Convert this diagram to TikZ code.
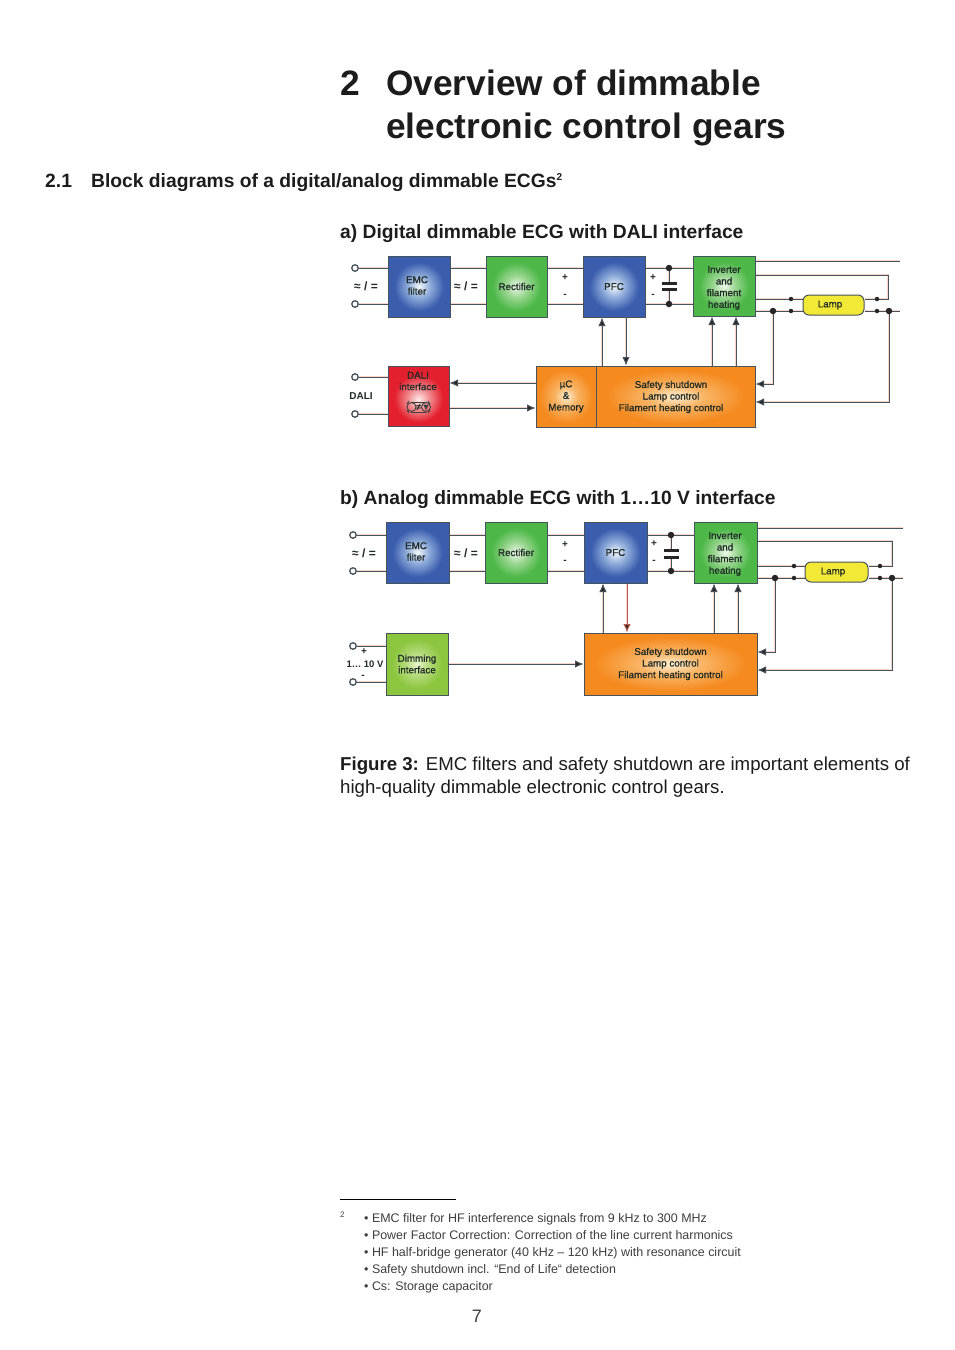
\documentclass[tikz,border=0pt]{standalone}
\usepackage{fontspec}
\setmainfont{Liberation Sans}
\newfontfamily\blockfont[RawFeature={embolden=0.9}]{Liberation Sans}
\usepackage{xcolor}
\usetikzlibrary{arrows.meta, shadings, backgrounds}

\definecolor{wirecol}{HTML}{46525C}
\definecolor{wirehalo}{HTML}{F8D4CA}
\definecolor{wirered}{HTML}{B85A50}
\definecolor{inkcol}{HTML}{1C1C1C}
\definecolor{labelcol}{HTML}{1F2A26}
\definecolor{blueout}{HTML}{3A5DAE}
\definecolor{bluemid}{HTML}{8FACDA}
\definecolor{bluein}{HTML}{F2F7FC}
\definecolor{greenout}{HTML}{4DB848}
\definecolor{greenmid}{HTML}{9AD691}
\definecolor{greenin}{HTML}{EEF9EA}
\definecolor{redout}{HTML}{E4202E}
\definecolor{redmid}{HTML}{F08A8E}
\definecolor{redin}{HTML}{FDECEC}
\definecolor{orangeout}{HTML}{F58A1F}
\definecolor{orangemid}{HTML}{F9B566}
\definecolor{orangein}{HTML}{FDEFD2}
\definecolor{limeout}{HTML}{8CC63F}
\definecolor{limemid}{HTML}{B5DB7C}
\definecolor{limein}{HTML}{EAF5CC}
\definecolor{lampcol}{HTML}{F2E936}

\pgfdeclareradialshading{blueglow}{\pgfpointorigin}{color(0bp)=(bluein); color(9bp)=(bluemid); color(20bp)=(blueout); color(50bp)=(blueout)}
\pgfdeclareradialshading{greenglow}{\pgfpointorigin}{color(0bp)=(greenin); color(9bp)=(greenmid); color(20bp)=(greenout); color(50bp)=(greenout)}
\pgfdeclareradialshading{redglow}{\pgfpoint{0bp}{-3bp}}{color(0bp)=(redin); color(9bp)=(redmid); color(20bp)=(redout); color(50bp)=(redout)}
\pgfdeclareradialshading{orangeglow}{\pgfpointorigin}{color(0bp)=(orangein); color(9bp)=(orangemid); color(22bp)=(orangeout); color(50bp)=(orangeout)}
\pgfdeclareradialshading{limeglow}{\pgfpointorigin}{color(0bp)=(limein); color(9bp)=(limemid); color(20bp)=(limeout); color(50bp)=(limeout)}

\tikzset{
    heading/.style={anchor=base west, inner sep=0pt, text=inkcol, font=\bfseries\fontsize{35.3}{36}\selectfont},
    subhead/.style={anchor=base west, inner sep=0pt, text=inkcol, font=\bfseries\fontsize{19.25}{20}\selectfont},
    captext/.style={anchor=base west, inner sep=0pt, text=inkcol, font=\fontsize{18.65}{20}\selectfont},
    notetext/.style={anchor=base west, inner sep=0pt, text=inkcol!85!white, font=\fontsize{12.45}{13}\selectfont},
    block/.style={draw=wirecol, line width=1pt, inner sep=0pt, align=center, text=labelcol, shade, font=\blockfont\fontsize{9.8}{11.6}\selectfont},
    blueblock/.style={block, shading=blueglow},
    greenblock/.style={block, shading=greenglow},
    redblock/.style={block, shading=redglow},
    orangeblock/.style={block, shading=orangeglow},
    limeblock/.style={block, shading=limeglow},
    lampbox/.style={draw=wirecol, line width=1pt, rounded corners=6pt, fill=lampcol, inner sep=0pt},
    blocktext/.style={inner sep=0pt, align=center, text=labelcol, font=\blockfont\fontsize{9.8}{11.6}\selectfont},
    sidetext/.style={inner sep=0pt, text=labelcol, font=\bfseries\fontsize{10}{10}\selectfont},
    acmark/.style={sidetext, font=\bfseries\fontsize{12}{12}\selectfont},
    terminal/.style={circle, draw=wirecol, fill=white, line width=1.3pt, minimum size=6.5pt, inner sep=0pt},
    bigdot/.style={circle, fill=black!85, minimum size=6.5pt, inner sep=0pt},
    smalldot/.style={circle, fill=black!85, minimum size=4.5pt, inner sep=0pt},
    wire/.style={draw=wirecol, line width=1pt, preaction={draw=wirehalo, line width=2pt}},
    sig/.style={wire, -{Latex[length=8.5pt, width=7.5pt, fill=black!85]}},
    plate/.style={draw=black!85, line width=3pt},
    optoline/.style={draw=black!75, line width=0.9pt},
}

\begin{document}
\begin{tikzpicture}[x=1pt, y=-1pt]
    \useasboundingbox (0,0) rectangle (954,1350);

    % page text
    \node[heading] (chapNum) at (340,95.5) {2};
    \node[heading] (chapLineA) at (386,95.5) {Overview of dimmable};
    \node[heading] (chapLineB) at (386,138.5) {electronic control gears};
    \node[subhead] (secNum) at (45,187) {2.1};
    \node[subhead] (secTitle) at (91,187) {Block diagrams of a digital/analog dimmable ECGs\raisebox{6.5pt}{\fontsize{10}{10}\selectfont 2}};
    \node[subhead] (titleA) at (340,238) {a) Digital dimmable ECG with DALI interface};
    \node[subhead] (titleB) at (340,504) {b) Analog dimmable ECG with 1…10 V interface};
    \node[captext] (capLineA) at (340,770) {\textbf{Figure 3:} EMC filters and safety shutdown are important elements of};
    \node[captext] (capLineB) at (340,793) {high-quality dimmable electronic control gears.};

    % a) blocks
    \node[blueblock, minimum width=62pt, minimum height=61pt] (emcA) at (419,286.5) {};
    \node[greenblock, minimum width=61pt, minimum height=61pt] (rectA) at (516.5,286.5) {Rectifier};
    \node[blueblock, minimum width=62pt, minimum height=61pt] (pfcA) at (614,286.5) {PFC};
    \node[greenblock, minimum width=62pt, minimum height=60pt] (invA) at (724,286) {};
    \node[lampbox, minimum width=61pt, minimum height=20pt] (lampA) at (833.5,305) {};
    \node[redblock, minimum width=61pt, minimum height=60pt] (daliA) at (418.5,396) {};
    \node[orangeblock, minimum width=60pt, minimum height=61pt] (ucA) at (566,396.5) {µC\\\&\\Memory};
    \node[orangeblock, minimum width=159pt, minimum height=61pt] (safeA) at (675.5,396.5) {};
    \node[blocktext] (emcTextA) at (417,285.5) {EMC\\filter};
    \node[blocktext] (invTextA) at (724,288) {Inverter\\and\\filament\\heating};
    \node[blocktext] (lampTextA) at (830,305) {Lamp};
    \node[blocktext] (safeTextA) at (671,397) {Safety shutdown\\Lamp control\\Filament heating control};
    \node[blocktext] (daliTextA) at (418,381) {DALI\\interface};

    % a) optocoupler icon
    \draw[optoline] (411,402) -- (426,402) (411,412) -- (426,412);
    \draw[optoline] (411.5,407) circle (4.5);
    \draw[optoline] (426,407) circle (4.5);
    \draw[optoline] (407,404) -- (409,401) (430,404) -- (428,401) (407,410) -- (409,413) (430,410) -- (428,413);
    \draw[optoline, fill=black!75] (424,405) -- (428,405) -- (426,409) -- cycle;
    \node[blocktext] (optoA) at (418.7,407) {≠};

    % a) terminals and labels
    \node[terminal] (termA1) at (355,268) {};
    \node[terminal] (termA2) at (355,304) {};
    \node[terminal] (termA3) at (355,377) {};
    \node[terminal] (termA4) at (355,414) {};
    \node[acmark] (acA1) at (366,286) {≈ / =};
    \node[acmark] (acA2) at (466,286) {≈ / =};
    \node[sidetext] (busA) at (361,396) {DALI};
    \node[sidetext] (plusA1) at (565,278) {+};
    \node[sidetext] (minusA1) at (565,296) {-};
    \node[sidetext] (plusA2) at (653,278) {+};
    \node[sidetext] (minusA2) at (653,296) {-};

    % a) wiring
    \node[bigdot] (capTopA) at (669,268) {};
    \node[bigdot] (capBotA) at (669,304) {};
    \coordinate (plateTopA) at (669,283);
    \coordinate (plateBotA) at (669,289);
    \node[smalldot] (lampDotA1) at (791,299) {};
    \node[smalldot] (lampDotA2) at (791,311) {};
    \node[smalldot] (lampDotA3) at (877,299) {};
    \node[smalldot] (lampDotA4) at (877,311) {};
    \node[bigdot] (tapA1) at (773,311) {};
    \node[bigdot] (tapA2) at (889,311) {};
    \coordinate (endA1) at (900,261);
    \coordinate (endA2) at (900,311);
    \coordinate (cornerA1) at (888,275);
    \coordinate (cornerA2) at (888,299);
    \coordinate (cornerA3) at (773,384);
    \coordinate (cornerA4) at (889,402);

    \begin{scope}[on background layer]
        \draw[wire] (termA1) -- (emcA.west |- termA1);
        \draw[wire] (termA2) -- (emcA.west |- termA2);
        \draw[wire] (termA3) -- (daliA.west |- termA3);
        \draw[wire] (termA4) -- (daliA.west |- termA4);
        \draw[wire] (emcA.east |- termA1) -- (rectA.west |- termA1);
        \draw[wire] (emcA.east |- termA2) -- (rectA.west |- termA2);
        \draw[wire] (rectA.east |- termA1) -- (pfcA.west |- termA1);
        \draw[wire] (rectA.east |- termA2) -- (pfcA.west |- termA2);
        \draw[wire] (pfcA.east |- capTopA) -- (capTopA) -- (invA.west |- capTopA);
        \draw[wire] (pfcA.east |- capBotA) -- (capBotA) -- (invA.west |- capBotA);
        \draw[wire] (capTopA) -- (plateTopA);
        \draw[wire] (capBotA) -- (plateBotA);
        \draw[wire] (invA.east |- endA1) -- (endA1);
        \draw[wire] (invA.east |- cornerA1) -- (cornerA1) -- (cornerA2) -- (lampA.east |- cornerA2);
        \draw[wire] (invA.east |- cornerA2) -- (lampA.west |- cornerA2);
        \draw[wire] (invA.east |- tapA1) -- (lampA.west |- tapA1);
        \draw[wire] (lampA.east |- tapA2) -- (endA2);
        \draw[sig] (tapA1) -- (cornerA3) -- (safeA.east |- cornerA3);
        \draw[sig] (tapA2) -- (cornerA4) -- (safeA.east |- cornerA4);
        \draw[sig] (safeA.north -| 602,0) -- (pfcA.south -| 602,0);
        \draw[sig] (pfcA.south -| 626,0) -- (safeA.north -| 626,0);
        \draw[sig] (safeA.north -| 712,0) -- (invA.south -| 712,0);
        \draw[sig] (safeA.north -| 736,0) -- (invA.south -| 736,0);
        \draw[sig] (ucA.west |- 0,383) -- (daliA.east |- 0,383);
        \draw[sig] (daliA.east |- 0,408) -- (ucA.west |- 0,408);
    \end{scope}
    \draw[plate] ([xshift=-7.5pt]plateTopA) -- ([xshift=7.5pt]plateTopA);
    \draw[plate] ([xshift=-7.5pt]plateBotA) -- ([xshift=7.5pt]plateBotA);

    % b) blocks
    \node[blueblock, minimum width=63pt, minimum height=61pt] (emcB) at (417.5,552.5) {};
    \node[greenblock, minimum width=62pt, minimum height=61pt] (rectB) at (516,552.5) {Rectifier};
    \node[blueblock, minimum width=63pt, minimum height=61pt] (pfcB) at (615.5,552.5) {PFC};
    \node[greenblock, minimum width=63pt, minimum height=61pt] (invB) at (725.5,552.5) {};
    \node[lampbox, minimum width=63pt, minimum height=20pt] (lampB) at (836.5,572) {};
    \node[limeblock, minimum width=62pt, minimum height=62pt] (dimB) at (417,664) {Dimming\\interface};
    \node[orangeblock, minimum width=173pt, minimum height=62pt] (safeB) at (670.5,664) {Safety shutdown\\Lamp control\\Filament heating control};
    \node[blocktext] (emcTextB) at (416,551.5) {EMC\\filter};
    \node[blocktext] (invTextB) at (725,554) {Inverter\\and\\filament\\heating};
    \node[blocktext] (lampTextB) at (833,572) {Lamp};

    % b) terminals and labels
    \node[terminal] (termB1) at (353,535) {};
    \node[terminal] (termB2) at (353,571) {};
    \node[terminal] (termB3) at (353,646) {};
    \node[terminal] (termB4) at (353,682) {};
    \node[acmark] (acB1) at (364,553) {≈ / =};
    \node[acmark] (acB2) at (466,553) {≈ / =};
    \node[sidetext, font=\bfseries\fontsize{9.5}{10}\selectfont] (busB) at (365,664) {1… 10 V};
    \node[sidetext] (plusB0) at (364,652) {+};
    \node[sidetext] (minusB0) at (363,677) {-};
    \node[sidetext] (plusB1) at (565,545) {+};
    \node[sidetext] (minusB1) at (565,562) {-};
    \node[sidetext] (plusB2) at (654,544) {+};
    \node[sidetext] (minusB2) at (654,562) {-};

    % b) wiring
    \node[bigdot] (capTopB) at (671,535) {};
    \node[bigdot] (capBotB) at (671,571) {};
    \coordinate (plateTopB) at (671,550);
    \coordinate (plateBotB) at (671,557);
    \node[smalldot] (lampDotB1) at (794,566) {};
    \node[smalldot] (lampDotB2) at (794,578) {};
    \node[smalldot] (lampDotB3) at (880,566) {};
    \node[smalldot] (lampDotB4) at (880,578) {};
    \node[bigdot] (tapB1) at (775,578) {};
    \node[bigdot] (tapB2) at (892,578) {};
    \coordinate (endB1) at (903,528);
    \coordinate (endB2) at (903,578);
    \coordinate (cornerB1) at (892,541);
    \coordinate (cornerB2) at (892,566);
    \coordinate (cornerB3) at (775,652);
    \coordinate (cornerB4) at (892,670);

    \begin{scope}[on background layer]
        \draw[wire] (termB1) -- (emcB.west |- termB1);
        \draw[wire] (termB2) -- (emcB.west |- termB2);
        \draw[wire] (termB3) -- (dimB.west |- termB3);
        \draw[wire] (termB4) -- (dimB.west |- termB4);
        \draw[wire] (emcB.east |- termB1) -- (rectB.west |- termB1);
        \draw[wire] (emcB.east |- termB2) -- (rectB.west |- termB2);
        \draw[wire] (rectB.east |- termB1) -- (pfcB.west |- termB1);
        \draw[wire] (rectB.east |- termB2) -- (pfcB.west |- termB2);
        \draw[wire] (pfcB.east |- capTopB) -- (capTopB) -- (invB.west |- capTopB);
        \draw[wire] (pfcB.east |- capBotB) -- (capBotB) -- (invB.west |- capBotB);
        \draw[wire] (capTopB) -- (plateTopB);
        \draw[wire] (capBotB) -- (plateBotB);
        \draw[wire] (invB.east |- endB1) -- (endB1);
        \draw[wire] (invB.east |- cornerB1) -- (cornerB1) -- (cornerB2) -- (lampB.east |- cornerB2);
        \draw[wire] (invB.east |- cornerB2) -- (lampB.west |- cornerB2);
        \draw[wire] (invB.east |- tapB1) -- (lampB.west |- tapB1);
        \draw[wire] (lampB.east |- tapB2) -- (endB2);
        \draw[sig] (tapB1) -- (cornerB3) -- (safeB.east |- cornerB3);
        \draw[sig] (tapB2) -- (cornerB4) -- (safeB.east |- cornerB4);
        \draw[sig] (safeB.north -| 603,0) -- (pfcB.south -| 603,0);
        \draw[sig, draw=wirered] (pfcB.south -| 627,0) -- (safeB.north -| 627,0);
        \draw[sig] (safeB.north -| 714,0) -- (invB.south -| 714,0);
        \draw[sig] (safeB.north -| 738,0) -- (invB.south -| 738,0);
        \draw[sig] (dimB.east |- 0,664) -- (safeB.west |- 0,664);
    \end{scope}
    \draw[plate] ([xshift=-7.5pt]plateTopB) -- ([xshift=7.5pt]plateTopB);
    \draw[plate] ([xshift=-7.5pt]plateBotB) -- ([xshift=7.5pt]plateBotB);

    % footnote
    \coordinate (ruleLeft) at (340,1199);
    \coordinate (ruleRight) at (456,1199);
    \draw[black, line width=0.7pt] (ruleLeft) -- (ruleRight);
    \node[notetext, font=\fontsize{8}{8}\selectfont] (noteMark) at (340,1217) {2};
    \node[notetext] (noteA) at (364,1222) {• EMC filter for HF interference signals from 9 kHz to 300 MHz};
    \node[notetext] (noteB) at (364,1239) {• Power Factor Correction: Correction of the line current harmonics};
    \node[notetext] (noteC) at (364,1256) {• HF half-bridge generator (40 kHz – 120 kHz) with resonance circuit};
    \node[notetext] (noteD) at (364,1273) {• Safety shutdown incl. “End of Life“ detection};
    \node[notetext] (noteE) at (364,1290) {• Cs: Storage capacitor};
    \node[inner sep=0pt, text=inkcol!85!white, font=\fontsize{18}{18}\selectfont] (pageNum) at (477,1316) {7};
\end{tikzpicture}
\end{document}
